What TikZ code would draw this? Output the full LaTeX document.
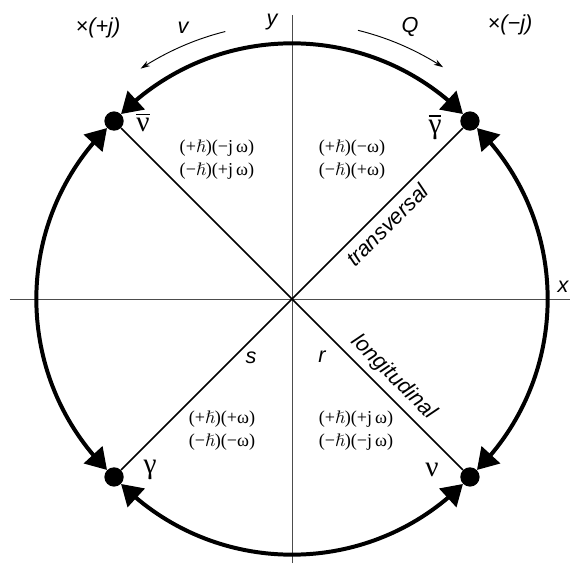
\documentclass[tikz,border=0pt]{standalone}
\usepackage{amssymb}
\usepackage{fontspec}
\setmainfont{Liberation Serif}
\setsansfont{Liberation Sans}
\usetikzlibrary{arrows.meta,bending}

\begin{document}
\begin{tikzpicture}[
  dot/.style={circle,fill,inner sep=0pt,minimum size=0.58cm},
  lbl/.style={font=\fontsize{18.5}{20}\selectfont\sffamily\itshape},
  gk/.style={font=\fontsize{25}{28}\selectfont},
  quad/.style={font=\fontsize{15.5}{20}\selectfont,align=center},
  bigarc/.style={line width=3.4pt,{Triangle[length=0.62cm,width=0.74cm]}-{Triangle[length=0.62cm,width=0.74cm]}},
  thinarc/.style={line width=0.8pt,-{Stealth[length=8pt,width=5pt]}}
]
\def\R{7.55}
\useasboundingbox (-8.76,-7.92) rectangle (8.34,8.97);
\draw[black!70,line width=0.7pt] (-8.46,0) -- (8.34,0);
\draw[black!70,line width=0.7pt] (0,-7.92) -- (0,8.52);

\node[dot] (gbar) at (45:\R) {};
\node[dot] (nubar) at (135:\R) {};
\node[dot] (gam) at (225:\R) {};
\node[dot] (nu) at (315:\R) {};

\draw[line width=1.5pt] (nubar) -- (nu);
\draw[line width=1.5pt] (gam) -- (gbar);

\draw[bigarc] (gbar) to[bend right=45] (nubar);
\draw[bigarc] (nubar) to[bend right=45] (gam);
\draw[bigarc] (gam) to[bend right=45] (nu);
\draw[bigarc] (nu) to[bend right=45] (gbar);

\coordinate (vstart) at (104:8.27);
\coordinate (qstart) at (76.2:8.3);
\draw[thinarc] (vstart) arc[start angle=104,end angle=123.3,radius=8.27];
\draw[thinarc] (qstart) arc[start angle=76.2,end angle=56.9,radius=8.3];

\node[lbl] (xlbl) at (8.13,0.36) {x};
\node[lbl] (ylbl) at (-0.6,8.31) {y};
\node[lbl] (pj) at (-5.82,8.13) {×(+j)};
\node[lbl] (mj) at (6.54,8.22) {×(−j)};
\node[lbl] (vlbl) at (-3.27,8.13) {v};
\node[lbl] (qlbl) at (3.54,8.16) {Q};
\node[lbl] (slbl) at (-1.23,-1.77) {s};
\node[lbl] (rlbl) at (0.9,-1.74) {r};
\node[lbl,rotate=45] (trans) at (2.85,2.22) {transversal};
\node[lbl,rotate=-45] (longi) at (3.05,-2.35) {longitudinal};

\node[gk] (nubarl) at (-4.47,5.3) {$\overline{\mbox{ν}}$};
\node[gk] (gbarl) at (4.29,5.16) {$\overline{\mbox{γ}}$};
\node[gk] (gaml) at (-4.26,-5.13) {γ};
\node[gk] (nul) at (4.2,-5.13) {ν};

\node[quad] (ul) at (-2.25,4.18) {(+$\hslash$)(−j\,ω)\\(−$\hslash$)(+j\,ω)};
\node[quad] (ur) at (1.8,4.18) {(+$\hslash$)(−ω)\\(−$\hslash$)(+ω)};
\node[quad] (ll) at (-2.1,-3.95) {(+$\hslash$)(+ω)\\(−$\hslash$)(−ω)};
\node[quad] (lr) at (1.92,-3.95) {(+$\hslash$)(+j\,ω)\\(−$\hslash$)(−j\,ω)};
\end{tikzpicture}
\end{document}
